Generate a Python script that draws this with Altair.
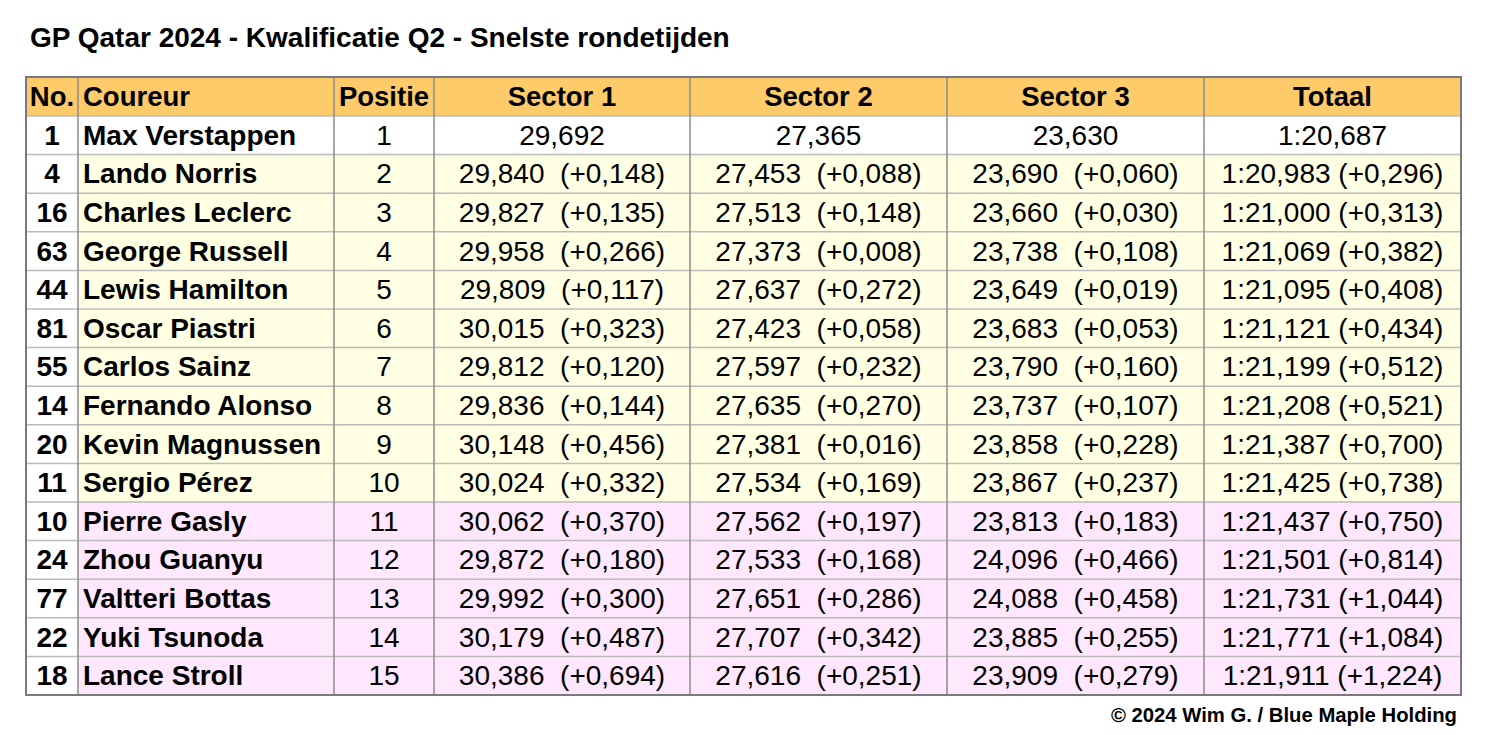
import altair as alt
import pandas as pd

# ---------------- data ----------------
title_text = "GP Qatar 2024 - Kwalificatie Q2 - Snelste rondetijden"
credit_text = "© 2024 Wim G. / Blue Maple Holding"
headers = ["No.", "Coureur", "Positie", "Sector 1", "Sector 2", "Sector 3", "Totaal"]

nos = [1, 4, 16, 63, 44, 81, 55, 14, 20, 11, 10, 24, 77, 22, 18]
names = ["Max Verstappen", "Lando Norris", "Charles Leclerc", "George Russell",
         "Lewis Hamilton", "Oscar Piastri", "Carlos Sainz", "Fernando Alonso",
         "Kevin Magnussen", "Sergio Pérez", "Pierre Gasly", "Zhou Guanyu",
         "Valtteri Bottas", "Yuki Tsunoda", "Lance Stroll"]
positions = list(range(1, 16))
s1 = ["29,692", "29,840", "29,827", "29,958", "29,809", "30,015", "29,812", "29,836",
      "30,148", "30,024", "30,062", "29,872", "29,992", "30,179", "30,386"]
s1_gap = ["", "+0,148", "+0,135", "+0,266", "+0,117", "+0,323", "+0,120", "+0,144",
          "+0,456", "+0,332", "+0,370", "+0,180", "+0,300", "+0,487", "+0,694"]
s2 = ["27,365", "27,453", "27,513", "27,373", "27,637", "27,423", "27,597", "27,635",
      "27,381", "27,534", "27,562", "27,533", "27,651", "27,707", "27,616"]
s2_gap = ["", "+0,088", "+0,148", "+0,008", "+0,272", "+0,058", "+0,232", "+0,270",
          "+0,016", "+0,169", "+0,197", "+0,168", "+0,286", "+0,342", "+0,251"]
s3 = ["23,630", "23,690", "23,660", "23,738", "23,649", "23,683", "23,790", "23,737",
      "23,858", "23,867", "23,813", "24,096", "24,088", "23,885", "23,909"]
s3_gap = ["", "+0,060", "+0,030", "+0,108", "+0,019", "+0,053", "+0,160", "+0,107",
          "+0,228", "+0,237", "+0,183", "+0,466", "+0,458", "+0,255", "+0,279"]
tot = ["1:20,687", "1:20,983", "1:21,000", "1:21,069", "1:21,095", "1:21,121", "1:21,199",
       "1:21,208", "1:21,387", "1:21,425", "1:21,437", "1:21,501", "1:21,731", "1:21,771",
       "1:21,911"]
tot_gap = ["", "+0,296", "+0,313", "+0,382", "+0,408", "+0,434", "+0,512", "+0,521",
           "+0,700", "+0,738", "+0,750", "+0,814", "+1,044", "+1,084", "+1,224"]
# row group: 0 = pole, 1 = Q3 qualifiers, 2 = eliminated in Q2
groups = [0, 1, 1, 1, 1, 1, 1, 1, 1, 1, 2, 2, 2, 2, 2]

# ---------------- layout / style ----------------
W, H = 1472, 719
col_edges = [26, 78, 334, 434, 690, 947, 1204, 1461]
header_top, header_h, row_h = 77, 39, 38.6
FONT = "Liberation Sans"
FS = 28
HEADER_FILL = "#FECB6B"
GROUP_FILL = {0: "#FFFFFF", 1: "#FFFFE3", 2: "#FFE8FD"}

n = len(nos)
row_top = [header_top + header_h + i * row_h for i in range(n)]
bottom = header_top + header_h + n * row_h

def sec(v, g):
    return v if g == "" else f"{v}\u00a0 ({g})"

def totf(v, g):
    return v if g == "" else f"{v} ({g})"

cells = []
for c in range(7):
    cells.append(dict(x=col_edges[c], x2=col_edges[c + 1], y=header_top,
                      y2=header_top + header_h, fill=HEADER_FILL))
for i in range(n):
    for c in range(7):
        fill = "#FFFFFF" if c == 0 else GROUP_FILL[groups[i]]
        cells.append(dict(x=col_edges[c], x2=col_edges[c + 1], y=row_top[i],
                          y2=row_top[i] + row_h, fill=fill))
cells_df = pd.DataFrame(cells)

xs = alt.Scale(domain=[8, 8 + W], range=[0, W])
ys = alt.Scale(domain=[8, 8 + H], range=[0, H])

rects = alt.Chart(cells_df).mark_rect(strokeWidth=0).encode(
    x=alt.X("x:Q", scale=xs, axis=None), x2="x2:Q",
    y=alt.Y("y:Q", scale=ys, axis=None), y2="y2:Q",
    fill=alt.Fill("fill:N", scale=None),
)

hl = pd.DataFrame({"y": [header_top + header_h] + [row_top[i] + row_h for i in range(n - 1)],
                   "x": col_edges[0], "x2": col_edges[-1]})
hlines = alt.Chart(hl).mark_rule(color="#BBBBBB", strokeWidth=1.5).encode(
    x=alt.X("x:Q", scale=xs, axis=None), x2="x2:Q", y=alt.Y("y:Q", scale=ys, axis=None))

vl = pd.DataFrame({"x": col_edges[1:-1], "y": header_top, "y2": bottom})
vlines = alt.Chart(vl).mark_rule(color="#8C8C8C", strokeWidth=1.5).encode(
    x=alt.X("x:Q", scale=xs, axis=None), y=alt.Y("y:Q", scale=ys, axis=None), y2="y2:Q")

border_df = pd.DataFrame([dict(x=col_edges[0], x2=col_edges[-1], y=header_top, y2=bottom)])
border = alt.Chart(border_df).mark_rect(fill=None, stroke="#7A7A7A", strokeWidth=2).encode(
    x=alt.X("x:Q", scale=xs, axis=None), x2="x2:Q",
    y=alt.Y("y:Q", scale=ys, axis=None), y2="y2:Q")

centers = [(col_edges[c] + col_edges[c + 1]) / 2 for c in range(7)]
DY = 1.5
hdr_center = pd.DataFrame([dict(x=centers[c], y=header_top + header_h / 2, t=headers[c])
                           for c in [0, 2, 3, 4, 5, 6]])
hdr_left = pd.DataFrame([dict(x=col_edges[1] + 5, y=header_top + header_h / 2, t=headers[1])])

no_df = pd.DataFrame([dict(x=centers[0], y=row_top[i] + row_h / 2, t=str(nos[i])) for i in range(n)])
name_df = pd.DataFrame([dict(x=col_edges[1] + 5, y=row_top[i] + row_h / 2, t=names[i]) for i in range(n)])
reg = []
for i in range(n):
    yc = row_top[i] + row_h / 2
    reg.append(dict(x=centers[2], y=yc, t=str(positions[i])))
    reg.append(dict(x=centers[3], y=yc, t=sec(s1[i], s1_gap[i])))
    reg.append(dict(x=centers[4], y=yc, t=sec(s2[i], s2_gap[i])))
    reg.append(dict(x=centers[5], y=yc, t=sec(s3[i], s3_gap[i])))
    reg.append(dict(x=centers[6], y=yc, t=totf(tot[i], tot_gap[i])))
reg_df = pd.DataFrame(reg)

def txt(df, align, weight, size=FS, baseline="middle", dy=DY):
    return alt.Chart(df).mark_text(align=align, baseline=baseline, font=FONT,
                                   fontSize=size, fontWeight=weight, color="#000000",
                                   dy=dy).encode(
        x=alt.X("x:Q", scale=xs, axis=None), y=alt.Y("y:Q", scale=ys, axis=None), text="t:N")

title_df = pd.DataFrame([dict(x=30, y=47, t=title_text)])
credit_df = pd.DataFrame([dict(x=1457, y=722, t=credit_text)])

chart = alt.layer(
    rects, hlines, vlines, border,
    txt(hdr_center, "center", "bold", size=27.5),
    txt(hdr_left, "left", "bold", size=27.5),
    txt(no_df, "center", "bold"),
    txt(name_df, "left", "bold"),
    txt(reg_df, "center", "normal"),
    txt(title_df, "left", "bold", size=28, baseline="alphabetic", dy=0),
    txt(credit_df, "right", "bold", size=20.3, baseline="alphabetic", dy=0),
).properties(
    width=W, height=H, padding=0, autosize=alt.AutoSizeParams(type="none"),
    background="#FFFFFF",
).configure_view(stroke=None)

chart.save("out.html", embed_options={"renderer": "svg", "actions": False})
